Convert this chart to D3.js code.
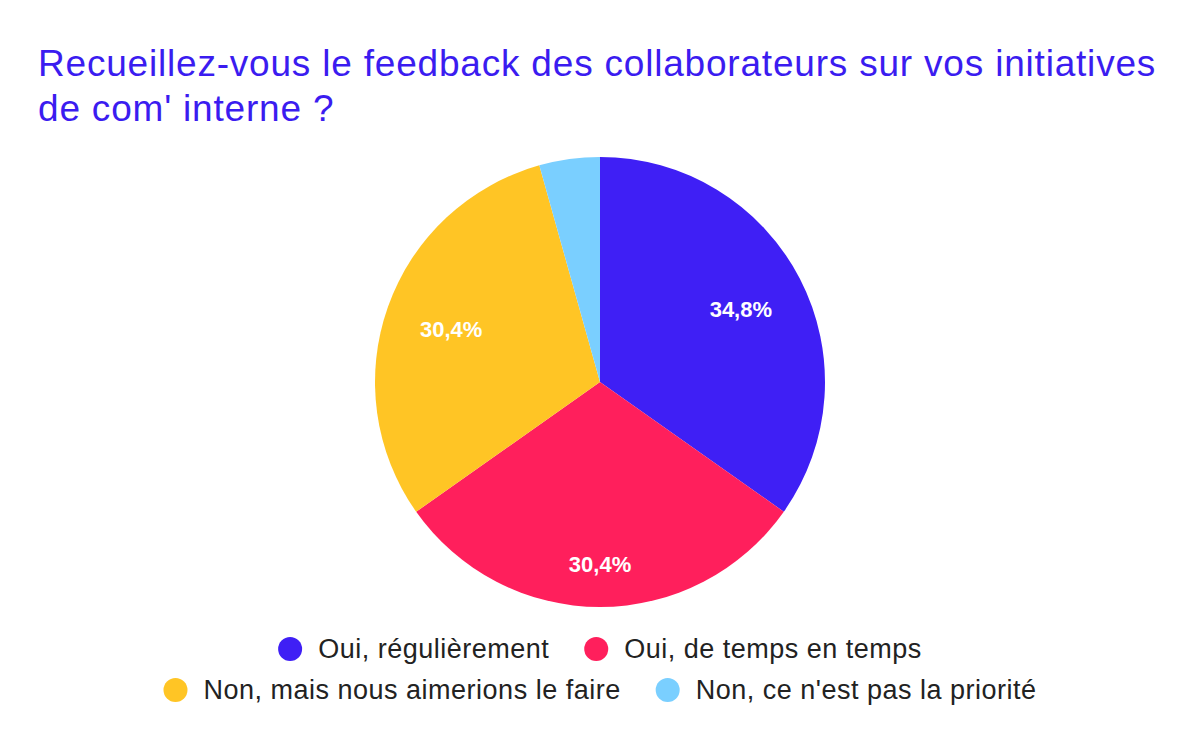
<!DOCTYPE html>
<html>
<head>
<meta charset="utf-8">
<script src="https://cdn.jsdelivr.net/npm/d3@7"></script>
<style>
  body { margin: 0; background: #fff; }
  text { font-family: "Liberation Sans", Arial, sans-serif; }
</style>
</head>
<body>
<div id="chart"></div>
<script>
const titleLines = ["Recueillez-vous le feedback des collaborateurs sur vos initiatives", "de com' interne ?"];
const categories = ["Oui, régulièrement", "Oui, de temps en temps", "Non, mais nous aimerions le faire", "Non, ce n'est pas la priorité"];
const counts = [8, 7, 7, 1];
const colors = ["#3f1ff5", "#ff1f5c", "#ffc525", "#7acfff"];
const legendRows = [[0, 1], [2, 3]];

const width = 1200, height = 742;
const cx = 600, cy = 382, radius = 225;
const labelReach = 190;

const svg = d3.select("#chart").append("svg")
  .attr("width", width)
  .attr("height", height);

// title
svg.append("g").selectAll("text")
  .data(titleLines)
  .join("text")
  .attr("x", 38)
  .attr("y", (d, i) => 76 + i * 45)
  .style("font-size", "37px")
  .style("letter-spacing", "0.8px")
  .style("fill", "#3b1cf0")
  .text(d => d);

const total = d3.sum(counts);
const pie = d3.pie().sort(null).value(d => d);
const arc = d3.arc().innerRadius(0).outerRadius(radius);
const arcs = pie(counts);

const pieG = svg.append("g").attr("transform", "translate(" + cx + "," + cy + ")");

pieG.selectAll("path")
  .data(arcs)
  .join("path")
  .attr("d", arc)
  .attr("fill", (d, i) => colors[i]);

// labels: push the text box out until its far edge touches labelReach
const fmt = v => (v * 100).toFixed(1).replace(".", ",") + "%";
pieG.selectAll(".sliceLabel")
  .data(arcs.filter(d => d.value / total > 0.05))
  .join("text")
  .attr("class", "sliceLabel")
  .attr("text-anchor", "middle")
  .attr("dy", "0.35em")
  .style("font-size", "22px")
  .style("font-weight", "bold")
  .style("fill", "#fff")
  .text(d => fmt(d.value / total))
  .each(function (d) {
    const box = this.getBBox();
    const a = (d.startAngle + d.endAngle) / 2;
    const s = Math.sin(a), c = -Math.cos(a);
    const r = labelReach - (box.width / 2 * Math.abs(s) + 16 / 2 * Math.abs(c));
    d3.select(this).attr("x", r * s).attr("y", r * c);
  });

// legend, centered rows
const legendG = svg.append("g");
legendRows.forEach((row, ri) => {
  const y = 649 + ri * 41;
  const rowG = legendG.append("g");
  let x = 0;
  row.forEach((idx, k) => {
    const item = rowG.append("g").attr("transform", "translate(" + x + ",0)");
    item.append("circle")
      .attr("cx", 12).attr("cy", 0).attr("r", 12)
      .attr("fill", colors[idx]);
    const t = item.append("text")
      .attr("x", 40).attr("y", 0).attr("dy", "0.35em")
      .style("font-size", "27px")
      .style("letter-spacing", "0.5px")
      .style("fill", "#222")
      .text(categories[idx]);
    x += 40 + t.node().getComputedTextLength() + 35;
  });
  const w = x - 35;
  rowG.attr("transform", "translate(" + (width / 2 - w / 2) + "," + y + ")");
});
</script>
</body>
</html>
